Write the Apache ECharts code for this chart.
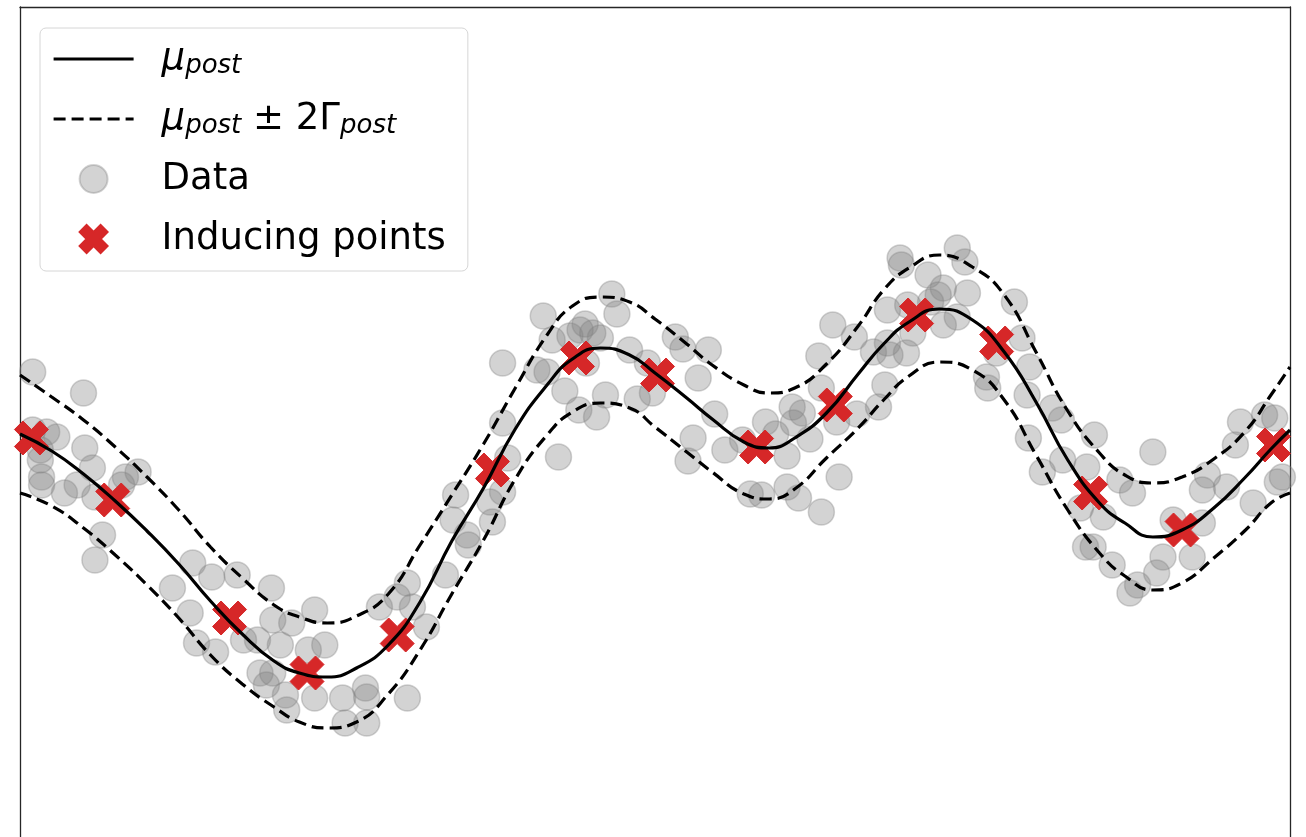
<!DOCTYPE html>
<html>
<head>
<meta charset="utf-8">
<title>Sparse GP posterior</title>
<script src="https://cdn.jsdelivr.net/npm/echarts@6/dist/echarts.min.js"></script>
<style>
  html, body { margin: 0; padding: 0; background: #fff; }
  #chart { width: 1306px; height: 837px; }
</style>
</head>
<body>
<div id="chart"></div>
<script>
// ── Data ──────────────────────────────────────────────────────────────
// posterior curve samples (extra samples at the turning points)
const curveX = [0, 0.25, 0.5, 0.75, 1, 1.25, 1.5, 1.75, 2, 2.2, 2.42, 2.65, 2.9, 3.15,
  3.4, 3.65, 3.9, 4.15, 4.35, 4.57, 4.8, 5.0, 5.25, 5.45, 5.7, 5.9, 6.1, 6.35, 6.6,
  6.8, 7.0, 7.24, 7.5, 7.75, 8.0, 8.25, 8.5, 8.7, 8.92, 9.15, 9.4, 9.65, 9.85, 10];
const meanY = [0.73, 0.56, 0.33, 0.06, -0.24, -0.57, -0.94, -1.27, -1.54, -1.66, -1.70,
  -1.61, -1.38, -0.95, -0.34, 0.19, 0.78, 1.22, 1.48, 1.59, 1.52, 1.34, 1.09, 0.88,
  0.65, 0.59, 0.69, 0.94, 1.33, 1.63, 1.85, 1.98, 1.87, 1.55, 1.05, 0.47, 0.04,
  -0.16, -0.30, -0.23, -0.01, 0.30, 0.58, 0.77];
const upperY = [1.32, 1.10, 0.87, 0.60, 0.30, -0.03, -0.40, -0.71, -0.98, -1.10, -1.16,
  -1.09, -0.87, -0.38, 0.12, 0.63, 1.19, 1.72, 2.01, 2.10, 2.05, 1.88, 1.63, 1.42,
  1.22, 1.14, 1.19, 1.43, 1.81, 2.17, 2.39, 2.52, 2.40, 2.12, 1.55, 0.96, 0.54,
  0.32, 0.24, 0.30, 0.48, 0.76, 1.12, 1.40];
const lowerY = [0.14, 0.01, -0.21, -0.48, -0.78, -1.11, -1.48, -1.77, -2.00, -2.15, -2.21,
  -2.15, -1.87, -1.43, -0.87, -0.33, 0.28, 0.72, 0.95, 1.04, 0.99, 0.80, 0.55, 0.35,
  0.13, 0.08, 0.18, 0.49, 0.79, 1.07, 1.31, 1.45, 1.37, 1.07, 0.52, -0.03, -0.46,
  -0.69, -0.83, -0.76, -0.51, -0.23, 0.04, 0.14];

// noisy observations
const dataX = [
  0.10, 0.50, 0.10, 0.21, 0.29, 0.16, 0.16, 0.17, 0.17, 0.35, 0.45, 0.51, 0.57, 0.59,
  0.83, 0.93, 0.80, 0.65, 0.59, 1.36, 1.51, 1.20, 1.71, 1.34, 1.39, 1.54, 1.98, 1.99,
  2.14, 2.32, 1.76, 1.87, 2.05, 1.89, 1.99, 1.94, 2.09, 2.10, 2.32, 2.27, 2.40, 2.54,
  2.72, 2.73, 2.56, 2.73, 3.05, 2.83, 2.97, 3.05, 3.09, 3.20, 3.35,
  3.43, 3.41, 3.52, 3.53, 3.80, 3.70, 3.72, 3.80, 3.84, 4.24, 3.80, 4.07, 4.15, 4.12,
  4.19, 4.33, 4.41, 4.45, 4.51, 4.57, 4.66, 4.70, 4.80, 4.46, 4.29, 4.40, 4.54, 4.61,
  4.86, 4.98,
  4.94, 5.16, 5.22, 5.42, 5.34, 5.47, 5.30, 5.26, 5.55, 5.69, 5.87, 5.95, 6.08, 6.16,
  6.09, 6.22, 6.04, 5.75, 5.84, 6.04, 6.13, 6.31, 6.45, 6.40, 6.57, 6.29, 6.31, 6.59,
  6.43, 6.72,
  6.93, 6.94, 7.38, 7.44, 7.15, 7.27, 7.23, 7.46, 6.83, 6.99, 7.17, 7.38, 7.27, 7.03,
  6.83, 6.85, 6.98, 7.83, 7.89, 7.69, 7.95, 7.61, 7.62, 6.81, 6.76, 7.93, 8.13, 8.20,
  7.94, 8.21, 8.05,
  8.46, 8.40, 8.66, 8.76, 8.92, 8.35, 8.53, 8.39, 8.45, 8.60, 8.74, 8.80, 8.95, 9.00,
  9.08, 9.23, 9.31, 9.35, 9.31, 9.50, 9.71, 9.61, 9.57, 9.80, 9.88, 9.90, 9.94];
const dataY = [
  1.35, 1.14, 0.77, 0.75, 0.70, 0.57, 0.47, 0.30, 0.22, 0.14, 0.22, 0.59, 0.39, 0.10,
  0.30, 0.35, 0.22, -0.28, -0.53, -0.56, -0.70, -0.81, -0.68, -1.06, -1.36, -1.45, -0.81, -1.13,
  -1.16, -1.03, -1.33, -1.33, -1.38, -1.66, -1.66, -1.78, -1.88, -2.03, -1.91, -1.43, -1.38, -1.91,
  -1.81, -1.90, -2.16, -2.16, -1.91, -1.00, -0.90, -0.76, -1.00, -1.20, -0.68,
  0.12, -0.13, -0.28, -0.38, 0.15, 0.05, -0.15, 0.84, 0.49, 0.50, 1.44, 1.37, 1.35, 1.91,
  1.67, 1.71, 1.77, 1.83, 1.74, 1.69, 2.13, 1.93, 1.57, 1.44, 1.16, 0.97, 0.90, 1.12,
  1.08, 1.14,
  1.44, 1.70, 1.58, 1.57, 1.29, 0.93, 0.69, 0.46, 0.57, 0.67, 0.85, 0.73, 1.00, 0.94,
  0.84, 0.68, 0.51, 0.13, 0.12, 0.20, 0.09, -0.05, 0.30, 1.82, 1.70, 1.51, 1.19, 0.93,
  0.85, 1.55,
  2.49, 2.42, 2.59, 2.45, 2.32, 2.19, 2.12, 2.14, 1.97, 2.02, 2.05, 1.90, 1.82, 1.74,
  1.64, 1.52, 1.54, 2.05, 1.69, 1.54, 1.40, 1.30, 1.19, 1.22, 1.00, 1.12, 0.99, 0.87,
  0.69, 0.47, 0.35,
  0.72, 0.40, 0.27, 0.14, 0.55, -0.01, -0.10, -0.40, -0.40, -0.58, -0.86, -0.78, -0.66, -0.50,
  -0.13, -0.50, -0.16, 0.32, 0.17, 0.20, 0.04, 0.85, 0.62, 0.92, 0.89, 0.25, 0.30];

// inducing points
const inducingX = [0.09, 0.73, 1.65, 2.26, 2.97, 3.72, 4.39, 5.02, 5.80, 6.42, 7.06, 7.69, 8.43, 9.15, 9.87];
const inducingY = [0.69, 0.07, -1.11, -1.66, -1.28, 0.37, 1.49, 1.32, 0.60, 1.02, 1.92, 1.64, 0.14, -0.23, 0.62];

// ── Styling ────────────────────────────────────────────────────────────
const fontFamily = 'DejaVu Sans';
const red = '#d62728';
const grey = 'rgba(128,128,128,0.35)';
const spine = { show: true, onZero: false, lineStyle: { color: '#262626', width: 1.3 } };
// matplotlib filled "X" marker
const xMarker = 'path://M1,0L2,1L3,0L4,1L3,2L4,3L3,4L2,3L1,4L0,3L1,2L0,1Z';

const zip = (xs, ys) => xs.map((x, i) => [x, ys[i]]);

const chart = echarts.init(document.getElementById('chart'), null, { renderer: 'canvas' });

const hiddenAxisParts = {
  axisTick: { show: false }, axisLabel: { show: false }, splitLine: { show: false },
};

const lineBase = {
  type: 'line',
  symbol: 'none',
  smooth: true,
  z: 5,
  silent: true,
  itemStyle: { color: 'rgba(0,0,0,0)', borderWidth: 0 },
};

chart.setOption({
  animation: false,
  backgroundColor: '#fff',
  grid: { left: 20, top: 7, right: 16, bottom: 0 },
  xAxis: Object.assign({ type: 'value', min: 0, max: 10, position: 'top', axisLine: spine }, hiddenAxisParts),
  yAxis: [
    Object.assign({ type: 'value', min: -3.3, max: 5, position: 'left', axisLine: spine }, hiddenAxisParts),
    Object.assign({ type: 'value', min: -3.3, max: 5, position: 'right', axisLine: spine }, hiddenAxisParts),
  ],
  legend: {
    orient: 'vertical',
    left: 40, top: 28,
    padding: [11, 22, 12, 12],
    itemWidth: 80, itemHeight: 28, itemGap: 20,
    backgroundColor: 'rgba(255,255,255,0.8)',
    borderColor: '#d6d6d6', borderWidth: 1, borderRadius: 6,
    selectedMode: false,
    lineStyle: { width: 3.2 },
    data: ['mean', 'band', 'Data', 'Inducing points'],
    formatter: (name) => {
      if (name === 'mean') return '{i|μ}{s|post}';
      if (name === 'band') return '{i|μ}{s|post}{r| ± 2Γ}{s|post}';
      return '{r|' + name + '}';
    },
    textStyle: {
      padding: [0, 0, 0, 23],
      lineHeight: 40,
      rich: {
        r: { fontSize: 37, fontFamily: fontFamily, color: '#000', lineHeight: 40 },
        i: { fontSize: 37, fontFamily: fontFamily, fontStyle: 'italic', color: '#000', lineHeight: 40 },
        s: { fontSize: 26, fontFamily: fontFamily, fontStyle: 'italic', color: '#000',
             lineHeight: 18, verticalAlign: 'bottom' },
      },
    },
  },
  series: [
    Object.assign({}, lineBase, {
      name: 'mean',
      data: zip(curveX, meanY),
      lineStyle: { color: '#000', width: 3.2, type: 'solid' },
    }),
    Object.assign({}, lineBase, {
      name: 'band',
      data: zip(curveX, upperY),
      lineStyle: { color: '#000', width: 3.2, type: [12, 6] },
    }),
    Object.assign({}, lineBase, {
      name: 'band',
      data: zip(curveX, lowerY),
      lineStyle: { color: '#000', width: 3.2, type: [12, 6] },
    }),
    {
      name: 'Data',
      type: 'scatter',
      z: 2,
      silent: true,
      symbol: 'circle',
      symbolSize: 26,
      data: zip(dataX, dataY),
      itemStyle: { color: grey, borderColor: grey, borderWidth: 1.5, opacity: 1 },
    },
    {
      name: 'Inducing points',
      type: 'scatter',
      z: 3,
      silent: true,
      symbol: xMarker,
      symbolSize: 34,
      data: zip(inducingX, inducingY),
      itemStyle: { color: red, borderColor: red, borderWidth: 1, opacity: 1 },
    },
  ],
});
</script>
</body>
</html>
